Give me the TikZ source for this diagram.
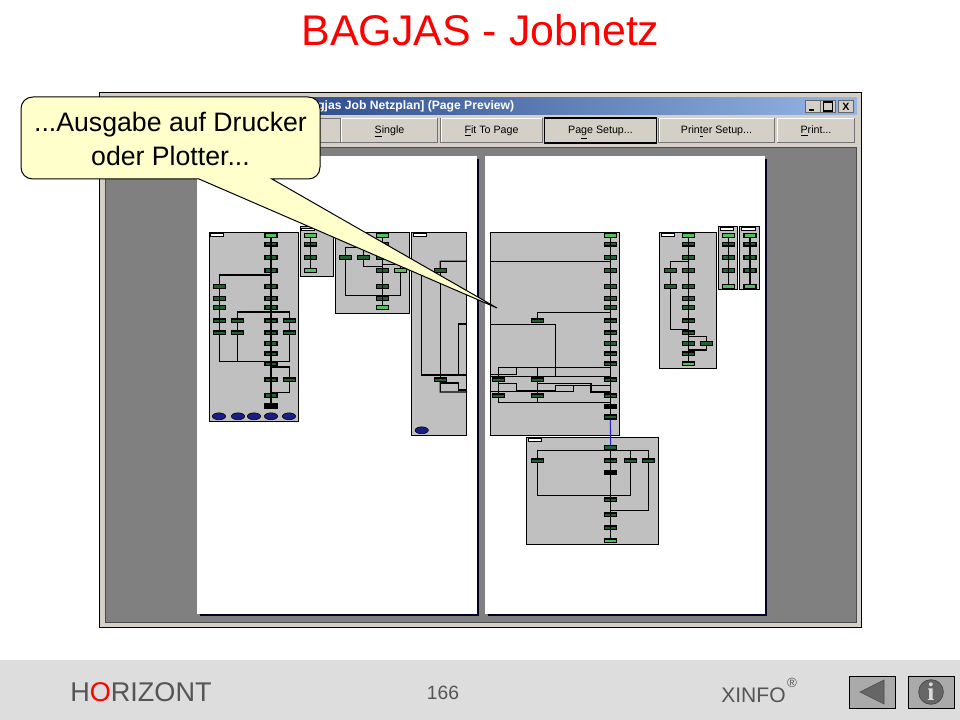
\documentclass[tikz,border=0pt]{standalone}
\usepackage{fontspec}
\setmainfont{Liberation Sans}
\newfontfamily\iconfont{Liberation Serif}
\usetikzlibrary{positioning, fit, shapes.geometric}
\definecolor{titlered}{RGB}{255,0,0}
\definecolor{footgray}{RGB}{221,221,221}
\definecolor{footbtn}{RGB}{170,170,170}
\definecolor{footdark}{RGB}{102,102,102}
\definecolor{textgray}{RGB}{85,85,85}
\definecolor{wingray}{RGB}{212,208,200}
\definecolor{areagray}{RGB}{128,128,128}
\definecolor{netgray}{RGB}{192,192,192}
\definecolor{hintyellow}{RGB}{255,255,204}
\definecolor{jobgreen}{RGB}{34,96,50}
\definecolor{jobbright}{RGB}{84,190,96}
\definecolor{endblue}{RGB}{24,30,130}
\definecolor{linkblue}{RGB}{32,32,200}
\definecolor{barleft}{RGB}{10,40,110}
\definecolor{barright}{RGB}{150,182,228}
\tikzset{
x=0.75pt, y=-0.75pt, % one unit is one pixel of the slide
netbox/.style={draw=black, line width=0.8pt, fill=netgray, inner sep=0pt},
job/.style={draw=black, line width=1pt, fill=jobgreen, inner sep=0pt, minimum width=9pt, minimum height=2.8pt},
jobfirst/.style={job, fill=jobbright},
jobdark/.style={job, fill=black},
jobend/.style={ellipse, draw=black, line width=0.4pt, fill=endblue, inner sep=0pt, minimum width=10pt, minimum height=5.2pt},
jobtag/.style={draw=black, line width=0.7pt, fill=white, inner sep=0pt, minimum width=10pt, minimum height=2.2pt},
wire/.style={draw=black, line width=0.85pt},
winbtn/.style={draw=black!55, line width=0.75pt, fill=wingray, inner sep=0pt, minimum height=18.5pt, text height=6pt, text depth=1pt, font=\fontsize{8}{9}\selectfont},
capbtn/.style={draw=black!60, line width=0.5pt, fill=wingray, inner sep=0pt, minimum width=11pt, minimum height=9.5pt},
footbox/.style={draw=black, line width=0.75pt, fill=footbtn, inner sep=0pt, minimum width=34.5pt, minimum height=24pt}
}
% a column of jobs: name prefix, x, list of number/y
\newcommand{\jobcolumn}[3]{\foreach \n/\y in {#3} \node[job] (#1\n) at (#2,\y) {};}
\begin{document}
\begin{tikzpicture}
      \useasboundingbox (0,0) rectangle (960,720);
      \fill[white] (0,0) rectangle (960,720);

      % window
      \node[draw=black, line width=0.75pt, fill=wingray, inner sep=0pt, fit={(99,93) (861,627)}] (window) {};
      \shade[left color=barleft, right color=barright] (103,98) rectangle (857,115);
      \node[draw=black!70, line width=0.5pt, fill=areagray, inner sep=0pt, fit={(105,147) (856,622)}] (area) {};
      \node[anchor=west, inner sep=0pt, white, font=\fontsize{9.1}{10}\selectfont\bfseries] (wintitle) at (317,106.5) {gjas Job Netzplan] (Page Preview)};
      \node[capbtn] (capmin) at (812.5,106.5) {};
      \node[capbtn] (capmax) at (828,106.5) {};
      \node[capbtn, font=\fontsize{8}{8}\selectfont\bfseries] (capclose) at (846,106.5) {X};
      \draw[line width=1.2pt] (808.5,110) -- (813.5,110);
      \draw[line width=0.8pt] (823.5,102) rectangle (832.5,111);

      \node[winbtn, minimum width=60pt] (btnzero) at (300,130.5) {};
      \node[winbtn, minimum width=72.5pt] (btnsingle) at (389.5,130.5) {\underline{S}ingle};
      \node[winbtn, minimum width=76.5pt] (btnfit) at (491.5,130.5) {\underline{F}it To Page};
      \node[winbtn, draw=black, line width=1.2pt, minimum width=84pt] (btnpage) at (600.5,130.5) {Pa\underline{g}e Setup...};
      \node[winbtn, minimum width=87pt] (btnprinter) at (716.5,130.5) {Prin\underline{t}er Setup...};
      \node[winbtn, minimum width=58pt] (btnprint) at (816,130.5) {\underline{P}rint...};
      \foreach \b in {btnsingle, btnfit, btnprinter, btnprint} \draw[white, line width=0.75pt] ([shift={(1,-1)}]\b.south west) |- ([shift={(-1,1)}]\b.north east);

      % pages
      \fill[black!85!blue] (200,159) rectangle (479,616);
      \fill[black!85!blue] (488,159) rectangle (767,616);
      \node[fill=white, inner sep=0pt, fit={(197,156) (477,614)}] (pageleft) {};
      \node[fill=white, inner sep=0pt, fit={(485,156) (765,614)}] (pageright) {};

      % nets
      \node[netbox, fit={(209.3,232.7) (298.7,421.7)}] (box1) {};
      \node[netbox, fit={(300.3,226.7) (333.7,276.7)}] (box2) {};
      \node[netbox, fit={(335.3,232.7) (409.7,313.3)}] (box3) {};
      \node[netbox, fit={(411.3,232.7) (466.7,435.7)}] (box4) {};
      \node[netbox, fit={(490.3,232.3) (619.7,435.3)}] (box5) {};
      \node[netbox, fit={(526.3,437.3) (658.7,544.7)}] (box6) {};
      \node[netbox, fit={(659.3,232.3) (716.3,368.3)}] (box7) {};
      \node[netbox, fit={(718.3,226.3) (737.3,289.3)}] (box8) {};
      \node[netbox, fit={(739.7,226.3) (759.7,289.3)}] (box9) {};

      \node[jobtag] (tag1) at (217,235.3) {};
      \node[jobtag] (tag2) at (308,229.5) {};
      \node[jobtag] (tag4) at (420,235.3) {};
      \node[jobtag] (tag6) at (535,439.7) {};
      \node[jobtag] (tag7) at (668,235.3) {};
      \node[jobtag] (tag8) at (727,229.3) {};
      \node[jobtag] (tag9) at (748.5,229.3) {};

      % first net
      \node[jobfirst] (a1) at (271,235.7) {};
      \jobcolumn{a}{271}{2/244.3,3/257.7,4/270.7,5/286.7,6/298.7,7/307.7,8/320.7,9/332.7,10/343.3,11/353.7,12/363.7,13/379.7,14/395.3}
      \node[jobdark] (a15) at (271,406) {};
      \jobcolumn{b}{219.5}{1/286.7,2/298.7,3/307.7,4/320.7,5/332.7}
      \jobcolumn{c}{237.3}{1/320.7,2/332.7}
      \jobcolumn{d}{289.3}{1/320.7,2/332.7,3/379.7}
      \foreach \n/\x in {1/219,2/238,3/254,4/271,5/289} \node[jobend] (o\n) at (\x,416.3) {};

      \draw[wire] (a1) -- (a15);
      \draw[wire] (a4) ++(0,4.3) -| (b1);
      \draw[wire] (b1) -- (b5);
      \draw[wire] (a7) ++(0,4.3) -| (c1);
      \draw[wire] (a7) ++(0,4.3) -| (d1);
      \draw[wire] (c1) -- (c2);
      \draw[wire] (d1) -- (d2);
      \draw[wire] (b5) |- (a12.north);
      \draw[wire] (c2) |- (a12.north);
      \draw[wire] (d2) |- (a12.north);
      \draw[wire] (a12) ++(0,3.3) -| (d3);
      \draw[wire] (d3) |- (a14.north);

      % second net
      \node[jobfirst] (h1) at (310.3,235.7) {};
      \jobcolumn{h}{310.3}{2/244.3,3/257.7}
      \node[jobfirst] (h4) at (310.3,270.7) {};
      \draw[wire] (h1) -- (h4);

      % third net
      \node[jobfirst] (i1) at (382.3,235.7) {};
      \jobcolumn{i}{382.3}{2/244.3,3/257.7,4/270.7,5/286.7,6/298.7}
      \node[jobfirst] (i7) at (382.3,307.7) {};
      \node[job] (j1) at (345.3,257.7) {};
      \node[job] (k1) at (363.3,257.7) {};
      \node[jobfirst] (l1) at (400.3,270.7) {};
      \draw[wire] (i1) -- (i7);
      \draw[wire] (i2) ++(0,3) -| (j1);
      \draw[wire] (i2) ++(0,3) -| (k1);
      \draw[wire] (j1) -- ++(0,37.6) -| (l1);
      \draw[wire] (k1) -- ++(0,8.6) -| (i4);
      \draw[wire] (i3) ++(0,6.5) -| (l1);

      % fourth net
      \node[job] (m1) at (440.3,270.7) {};
      \node[job] (m2) at (440.3,379.7) {};
      \node[jobend] (o6) at (421.7,430.3) {};
      \draw[wire] (m1) -- (m2);
      \draw[wire] (m1) -- ++(0,-9.4) -- (box4.east |- 0,261.3);
      \draw[wire] (m2) -- ++(0,12.3) -- (box4.east |- 0,392);
      \draw[wire] (box4.east |- 0,375) -| (421.7,270);
      \draw[wire] (box4.east |- 0,324) -| (458.3,375);
      \draw[wire] (m2) ++(0,3.3) -| (458.3,390) -- (box4.east |- 0,390);

      % fifth net
      \jobcolumn{e}{610.3}{2/244.3,3/257.7,4/270.7,5/286.7,6/298.7,7/307.7,8/320.7,9/332.7,10/343.3,11/353.7,12/363.7,13/379.7,14/395.7,16/417}
      \node[jobfirst] (e1) at (610.3,235.7) {};
      \node[jobdark] (e15) at (610.3,406.3) {};
      \jobcolumn{f}{537.3}{1/320.7,2/379.7,3/395.7}
      \jobcolumn{g}{498.3}{1/379.7,2/395.7}
      \draw[wire] (e1) -- (e16);
      \draw[wire] (box5.west |- 0,261.3) -| (e4);
      \draw[wire] (e7) ++(0,4.6) -| (f1);
      \draw[wire] (box5.west |- 0,324.3) -| (555.7,376.3);
      \draw[wire] (box5.west |- 0,376.3) -| (e13);
      \draw[wire] (e12) ++(0,3.6) -| (g1);
      \draw[wire] (e12) ++(0,3.6) -| (f2);
      \draw[wire] (g1) -- (g2);
      \draw[wire] (f2) -- (f3);
      \draw[wire] (g2) -- ++(0,6.6) -| (e15);
      \draw[wire] (f3) -- ++(0,6.6);
      \draw[wire] (516.7,367.3) |- (box5.west |- 0,374.3);
      \draw[wire] (g1) ++(0,3.6) -| (516.7,390.3) -| (555.7,385.3) -- (e14 |- 0,385.3);
      \draw[wire] (f2) ++(0,3.6) -| (591,392) -- (e14 |- 0,392);
      \draw[wire] (box5.west |- 0,391.7) -| (573.3,385.7);

      % sixth net
      \jobcolumn{p}{610.7}{1/447.3,2/460.7,4/499.7,5/514.7,6/527.7}
      \node[jobdark] (p3) at (610.7,472.3) {};
      \node[jobfirst] (p7) at (610.7,540.7) {};
      \node[job] (q1) at (537.3,460.7) {};
      \node[job] (r1) at (630.3,460.7) {};
      \node[job] (s1) at (648.3,460.7) {};
      \draw[wire] (p1) -- (p7);
      \draw[wire] (p1) ++(0,3) -| (q1);
      \draw[wire] (p1) ++(0,3) -| (r1);
      \draw[wire] (p1) ++(0,3) -| (s1);
      \draw[wire] (q1) -- ++(0,34.6) -| (r1);
      \draw[wire] (s1) -- ++(0,49.6) -| (p5);
      \draw[linkblue, line width=0.8pt] (e16) -- (p1);

      % seventh net
      \node[jobfirst] (t1) at (688.3,235.7) {};
      \jobcolumn{t}{688.3}{2/244.3,3/257.7,4/270.7,5/286.7,6/298.7,7/307.7,8/320.7,9/332.7,10/343.3,11/353.7}
      \node[jobfirst] (t12) at (688.3,363.7) {};
      \jobcolumn{u}{670.3}{1/270.7,2/286.7}
      \node[job] (v1) at (706.3,343.3) {};
      \draw[wire] (t1) -- (t12);
      \draw[wire] (t3) ++(0,3.6) -| (u1);
      \draw[wire] (u1) -- (u2);
      \draw[wire] (u2) -- ++(0,42.6) -| (t9);
      \draw[wire] (t9) ++(0,3.6) -| (v1);
      \draw[wire] (v1) -- ++(0,6.7) -| (t11);

      % eighth and ninth net
      \node[jobfirst] (w1) at (728.3,235.7) {};
      \jobcolumn{w}{728.3}{2/244.3,3/257.7,4/270.7}
      \node[jobfirst] (w5) at (728.3,286.7) {};
      \node[jobfirst] (y1) at (750,235.7) {};
      \jobcolumn{y}{750}{2/244.3,3/257.7,4/270.7}
      \node[jobfirst] (y5) at (750,286.7) {};
      \draw[wire] (w1) -- (w5);
      \draw[wire] (y1) -- (y5);

      % callout
      \draw[line width=0.75pt, fill=hintyellow] (199,179) -- (497,308) -- (272,179) -- (308,179) .. controls (315,179) and (320,174) .. (320,167) -- (320,109) .. controls (320,102) and (315,97) .. (308,97) -- (33,97) .. controls (26,97) and (21,102) .. (21,109) -- (21,167) .. controls (21,174) and (26,179) .. (33,179) -- cycle;
      \node[align=center, inner sep=0pt, font=\fontsize{20}{25.5}\selectfont] (hint) at (170.5,139) {...Ausgabe auf Drucker\\oder Plotter...};

      % title
      \node[inner sep=0pt, titlered, font=\fontsize{32.2}{36}\selectfont] (title) at (480.5,30) {BAGJAS - Jobnetz};

      % footer
      \fill[footgray] (0,660) rectangle (960,720);
      \node[anchor=west, inner sep=0pt, textgray, font=\fontsize{20.3}{24}\selectfont] (horizont) at (70,692) {H\textcolor{red}{O}RIZONT};
      \node[inner sep=0pt, textgray, font=\fontsize{14.4}{16}\selectfont] (pagenum) at (443,693) {166};
      \node[anchor=west, inner sep=0pt, textgray, font=\fontsize{15.8}{18}\selectfont] (xinfo) at (721,695) {XINFO};
      \node[inner sep=0pt, textgray, font=\fontsize{10}{12}\selectfont] (regmark) at (792,683) {®};
      \node[footbox] (backbtn) at (872,692) {};
      \node[footbox] (infobtn) at (931,692) {};
      \draw[line width=0.5pt, draw=black!70, fill=footdark] (860,692) -- (884,680) -- (884,704) -- cycle;
      \node[circle, draw=black!70, line width=0.6pt, fill=footdark, inner sep=0pt, minimum size=18.5pt, text=footgray, font=\fontsize{19}{19}\selectfont\iconfont\bfseries] (infoicon) at (931,692) {i};
\end{tikzpicture}
\end{document}
